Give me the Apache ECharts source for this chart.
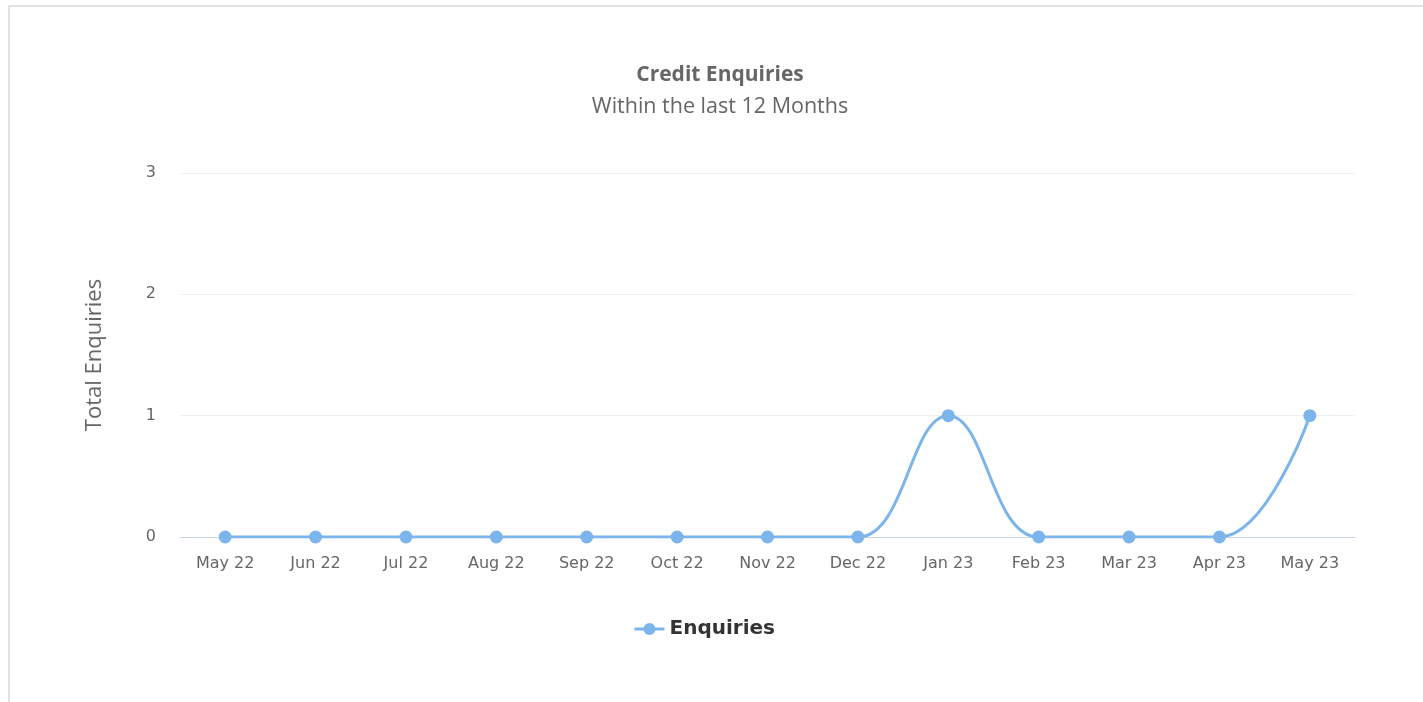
<!DOCTYPE html>
<html>
<head>
<meta charset="utf-8">
<script src="https://cdn.jsdelivr.net/npm/echarts@6/dist/echarts.min.js"></script>
<style>
html,body{margin:0;padding:0;background:#fff;}
#frame{position:absolute;left:8px;top:5px;width:1440px;height:720px;border-left:2px solid #e2e2e2;border-top:2px solid #e2e2e2;}
#chart{position:absolute;left:0;top:0;width:1423px;height:702px;}
</style>
</head>
<body>
<div id="frame"></div>
<div id="chart"></div>
<script>
const categories = ['May 22','Jun 22','Jul 22','Aug 22','Sep 22','Oct 22','Nov 22','Dec 22','Jan 23','Feb 23','Mar 23','Apr 23','May 23'];
const enquiries = [0,0,0,0,0,0,0,0,1,0,0,0,1];
const yTicks = [0,1,2,3];

const chart = echarts.init(document.getElementById('chart'));
chart.setOption({
  animation:false,
  title:{
    text:'Credit Enquiries',
    subtext:'Within the last 12 Months',
    left:715, textAlign:'center', top:60,
    itemGap:10,
    textStyle:{fontFamily:'Open Sans, sans-serif',fontSize:21,fontWeight:'bold',color:'#666'},
    subtextStyle:{fontFamily:'Open Sans, sans-serif',fontSize:21.5,color:'#666'}
  },
  legend:{
    data:['Enquiries'], left:628, top:614,
    itemWidth:30, itemHeight:15,
    lineStyle:{width:3},
    textStyle:{fontFamily:'DejaVu Sans, sans-serif',fontSize:20,fontWeight:'bold',color:'#333'}
  },
  grid:{left:180, right:68, top:173, bottom:165, containLabel:false},
  xAxis:{
    type:'category', data:categories, boundaryGap:true,
    axisLine:{lineStyle:{color:'#ccd6eb',width:1}},
    axisTick:{show:false},
    axisLabel:{fontFamily:'DejaVu Sans, sans-serif',fontSize:16,color:'#666',margin:19}
  },
  yAxis:{
    type:'value', min:yTicks[0], max:yTicks[yTicks.length-1], interval:1,
    name:'Total Enquiries', nameLocation:'middle', nameGap:74, nameRotate:90,
    nameTextStyle:{fontFamily:'Open Sans, sans-serif',fontSize:22,color:'#666'},
    axisLine:{show:false}, axisTick:{show:false},
    axisLabel:{fontFamily:'DejaVu Sans, sans-serif',fontSize:16,color:'#666',margin:24},
    splitLine:{lineStyle:{color:'#f0f0f0',width:1}}
  },
  series:[{
    name:'Enquiries', type:'line', data:enquiries,
    smooth:0.42,
    symbol:'circle', symbolSize:13,
    lineStyle:{color:'#7cb5ec',width:3},
    itemStyle:{color:'#7cb5ec'}
  }]
});
</script>
</body>
</html>
